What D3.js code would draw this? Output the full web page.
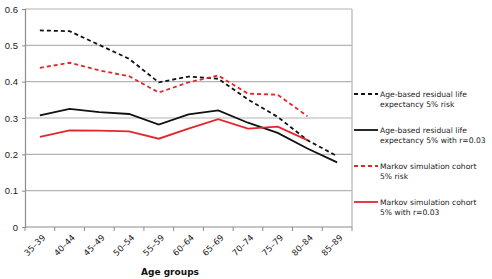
<!DOCTYPE html>
<html>
<head>
<meta charset="utf-8">
<script src="https://cdn.jsdelivr.net/npm/d3@7"></script>
<style>
  body { margin: 0; background: #fff; }
  svg { font-family: "DejaVu Sans", Verdana, sans-serif; }
</style>
</head>
<body>
<div id="chart"></div>
<script>
const ageGroups = ["35–39", "40–44", "45–49", "50–54", "55–59", "60–64",
  "65–69", "70–74", "75–79", "80–84", "85–89"];

const ageBasedRisk = [0.541, 0.539, 0.501, 0.463, 0.398, 0.414, 0.408, 0.351, 0.303, 0.239, 0.195];
const ageBasedDiscounted = [0.307, 0.325, 0.316, 0.311, 0.282, 0.310, 0.321, 0.287, 0.259, 0.216, 0.178];
const markovRisk = [0.438, 0.452, 0.431, 0.415, 0.370, 0.398, 0.417, 0.367, 0.364, 0.305, null];
const markovDiscounted = [0.248, 0.266, 0.265, 0.263, 0.243, 0.271, 0.297, 0.271, 0.276, 0.239, null];

const yTicks = [0, 0.1, 0.2, 0.3, 0.4, 0.5, 0.6];

const seriesList = [
  { name: ["Age-based residual life", "expectancy 5% risk"], values: ageBasedRisk, color: "#111", dash: "4,3" },
  { name: ["Age-based residual life", "expectancy 5% with r=0.03"], values: ageBasedDiscounted, color: "#111", dash: null },
  { name: ["Markov simulation cohort", "5% risk"], values: markovRisk, color: "#e3262b", dash: "4,3" },
  { name: ["Markov simulation cohort", "5% with r=0.03"], values: markovDiscounted, color: "#e3262b", dash: null }
];

const width = 492, height = 279;
const margin = { left: 25, right: 140, top: 9, bottom: 52 };

const svg = d3.select("#chart").append("svg")
  .attr("width", width)
  .attr("height", height);

const x = d3.scaleBand()
  .domain(ageGroups)
  .range([margin.left, width - margin.right]);

const y = d3.scaleLinear()
  .domain([0, 0.6])
  .range([height - margin.bottom, margin.top]);

// grid lines
svg.append("g")
  .selectAll("line")
  .data(yTicks.slice(1))
  .enter()
  .append("line")
  .attr("x1", margin.left)
  .attr("x2", width - margin.right)
  .attr("y1", d => y(d))
  .attr("y2", d => y(d))
  .style("stroke", "#b4b4b4")
  .style("stroke-width", 1.2);

// right border of plot area
svg.append("line")
  .attr("x1", width - margin.right)
  .attr("x2", width - margin.right)
  .attr("y1", y(0.6))
  .attr("y2", y(0))
  .style("stroke", "#b4b4b4")
  .style("stroke-width", 1.2);

// y axis
const yAxis = svg.append("g")
  .attr("transform", `translate(${margin.left},0)`)
  .call(d3.axisLeft(y).tickValues(yTicks).tickFormat(d => d === 0 ? "0" : d3.format(".1f")(d)).tickSize(3));
yAxis.select(".domain").style("stroke", "#8c8c8c").style("stroke-width", 1.2);
yAxis.selectAll(".tick line").style("stroke", "#8c8c8c");
yAxis.selectAll("text")
  .attr("x", -7)
  .style("font-size", "9.5px")
  .style("fill", "#222");

// x axis: ticks at category boundaries
const xAxisG = svg.append("g")
  .attr("transform", `translate(0,${y(0)})`);
xAxisG.append("line")
  .attr("x1", margin.left)
  .attr("x2", width - margin.right)
  .style("stroke", "#8c8c8c")
  .style("stroke-width", 1.2);
const boundaries = ageGroups.map(d => x(d)).concat([x(ageGroups[ageGroups.length - 1]) + x.bandwidth()]);
xAxisG.selectAll(".bt")
  .data(boundaries)
  .enter()
  .append("line")
  .attr("x1", d => d)
  .attr("x2", d => d)
  .attr("y1", 0)
  .attr("y2", 4)
  .style("stroke", "#8c8c8c");
xAxisG.selectAll(".lbl")
  .data(ageGroups)
  .enter()
  .append("text")
  .attr("transform", d => `translate(${x(d) + x.bandwidth() / 2 + 4},${9}) rotate(-45)`)
  .attr("text-anchor", "end")
  .attr("dy", "0.35em")
  .style("font-size", "8.5px")
  .style("fill", "#222")
  .text(d => d);

svg.append("text")
  .attr("x", 170)
  .attr("y", 275)
  .attr("text-anchor", "middle")
  .style("font-size", "9px")
  .style("font-weight", "bold")
  .style("fill", "#111")
  .text("Age groups");

// lines
const line = d3.line()
  .defined(d => d.v !== null)
  .x(d => x(d.k) + x.bandwidth() / 2)
  .y(d => y(d.v));

seriesList.forEach(s => {
  svg.append("path")
    .datum(ageGroups.map((k, i) => ({ k, v: s.values[i] })))
    .attr("d", line)
    .style("fill", "none")
    .style("stroke", s.color)
    .style("stroke-width", 1.8)
    .style("stroke-dasharray", s.dash);
});

// legend
const legend = svg.append("g").attr("transform", "translate(354,94)");
seriesList.forEach((s, i) => {
  const g = legend.append("g").attr("transform", `translate(0,${i * 36})`);
  g.append("line")
    .attr("x1", 0)
    .attr("x2", 24)
    .style("stroke", s.color)
    .style("stroke-width", 1.8)
    .style("stroke-dasharray", s.dash);
  g.selectAll("text")
    .data(s.name)
    .enter()
    .append("text")
    .attr("x", 26)
    .attr("y", (d, j) => 2.5 + j * 10)
    .style("font-size", "7.6px")
    .style("fill", "#222")
    .text(d => d);
});
</script>
</body>
</html>
